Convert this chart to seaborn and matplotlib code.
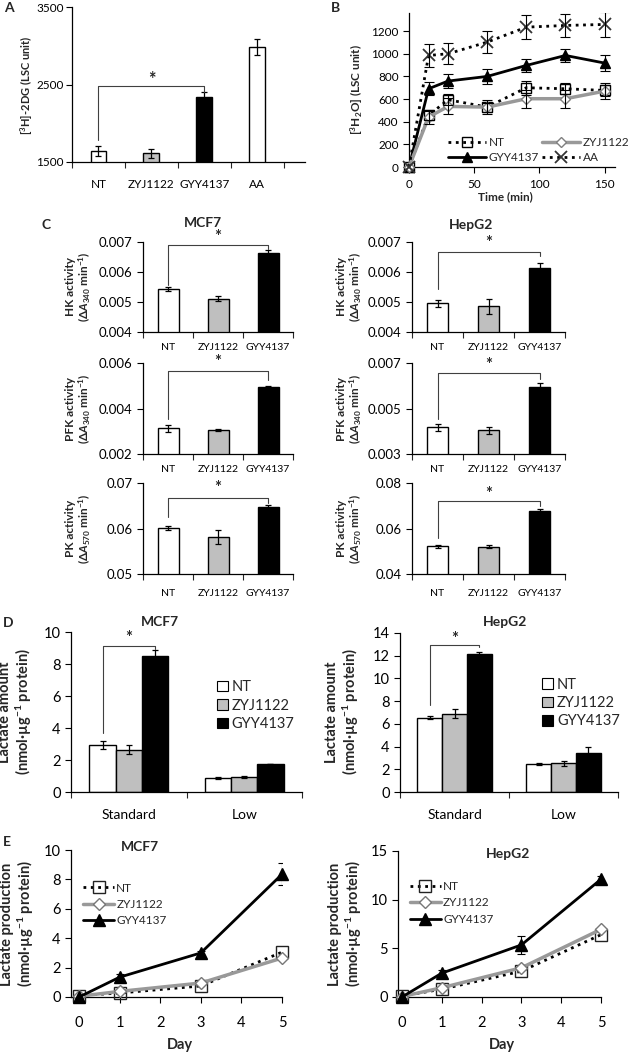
import numpy as np
import pandas as pd
import matplotlib
matplotlib.use('Agg')
import matplotlib.pyplot as plt
import seaborn as sns

# ---------------- data ----------------
groups3 = ['NT', 'ZYJ1122', 'GYY4137']
groups4 = ['NT', 'ZYJ1122', 'GYY4137', 'AA']
fill = {'NT': 'white', 'ZYJ1122': '#bfbfbf', 'GYY4137': 'black', 'AA': 'white'}

# A: [3H]-2DG uptake
a_vals = [1646, 1611, 2334, 2987]
a_err = [64, 57, 70, 100]

# B: [3H2O] time course
b_time = [0, 15, 30, 60, 90, 120, 150]
b_nt = [0, 456, 594, 529, 700, 691, 676]
b_nt_err = [0, 40, 50, 40, 60, 50, 50]
b_zyj = [0, 441, 535, 529, 603, 603, 670]
b_zyj_err = [0, 60, 70, 60, 80, 80, 70]
b_gyy = [0, 691, 759, 800, 897, 985, 918]
b_gyy_err = [0, 59, 59, 68, 59, 59, 67]
b_aa = [0, 985, 1000, 1103, 1235, 1250, 1259]
b_aa_err = [0, 103, 94, 97, 103, 103, 109]

# C: enzyme activities
mcf7_hk = [0.00542, 0.00511, 0.00664]
mcf7_hk_err = [0.00007, 0.00008, 0.00008]
mcf7_pfk = [0.00313, 0.00304, 0.00493]
mcf7_pfk_err = [0.00016, 0.00004, 0.00007]
mcf7_pk = [0.0601, 0.0582, 0.06465]
mcf7_pk_err = [0.0004, 0.0015, 0.0005]
hep_hk = [0.00495, 0.00485, 0.00612]
hep_hk_err = [0.00013, 0.00026, 0.00018]
hep_pfk = [0.00418, 0.00404, 0.00596]
hep_pfk_err = [0.00015, 0.00014, 0.00015]
hep_pk = [0.0522, 0.0520, 0.0677]
hep_pk_err = [0.0007, 0.0007, 0.0007]

# D: lactate amount (rows: NT, ZYJ1122, GYY4137; cols: Standard, Low)
d_conditions = ['Standard', 'Low']
d_mcf7 = [[2.96, 0.875], [2.65, 0.94], [8.48, 1.75]]
d_mcf7_err = [[0.25, 0.08], [0.3, 0.07], [0.37, 0.03]]
d_hep = [[6.55, 2.46], [6.9, 2.54], [12.19, 3.42]]
d_hep_err = [[0.15, 0.05], [0.38, 0.23], [0.15, 0.5]]

# E: lactate production over days
e_days = [0, 1, 3, 5]
e_mcf7_nt = [0.1, 0.27, 0.75, 3.05]
e_mcf7_zyj = [0.05, 0.38, 0.95, 2.65]
e_mcf7_gyy = [0.0, 1.35, 3.0, 8.35]
e_mcf7_gyy_err = [0, 0.2, 0.15, 0.75]
e_hep_nt = [0.1, 0.8, 2.65, 6.4]
e_hep_zyj = [0.05, 0.95, 3.0, 6.95]
e_hep_gyy = [0.0, 2.45, 5.35, 12.1]
e_hep_gyy_err = [0, 0.3, 0.9, 0.3]

# significance brackets: (left foot, top, right foot, star height)
sig_a = (1788, 2475, 2400, 2560)
sig_c = {
    'mcf7_hk': (0.00557, 0.00689, 0.00678, 0.00718),
    'mcf7_pfk': (0.00356, 0.00563, 0.00526, 0.00605),
    'mcf7_pk': (0.0625, 0.0667, 0.0655, 0.0688),
    'hep_hk': (0.00542, 0.00667, 0.00652, 0.00697),
    'hep_pfk': (0.00456, 0.00656, 0.00629, 0.00690),
    'hep_pk': (0.0558, 0.0719, 0.0697, 0.0753),
}
sig_d_mcf7 = (3.7, 9.15, 8.95, 9.6)
sig_d_hep = (7.66, 12.9, 12.75, 13.5)

# ---------------- style ----------------
sns.set_style('ticks')
plt.rcParams['font.family'] = ['Lato', 'DejaVu Sans']
plt.rcParams['mathtext.fontset'] = 'custom'
plt.rcParams['mathtext.rm'] = 'Lato:bold'
plt.rcParams['mathtext.it'] = 'Lato:italic:bold'
plt.rcParams['mathtext.bf'] = 'Lato:bold'

W, H = 630, 1055
fig = plt.figure(figsize=(W / 100, H / 100), dpi=100)


def place(x0, x1, y0, y1):
    return fig.add_axes([x0 / W, 1 - y1 / H, (x1 - x0) / W, (y1 - y0) / H])


def ftext(x, y, s, size, **kw):
    kw.setdefault('ha', 'center')
    kw.setdefault('va', 'center')
    fig.text(x / W, 1 - y / H, s, fontsize=size, **kw)


def style_axes(ax, size):
    sns.despine(ax=ax)
    for s in ['left', 'bottom']:
        ax.spines[s].set_linewidth(0.9)
        ax.spines[s].set_color('black')
    ax.tick_params(axis='both', labelsize=size, length=4, width=0.8,
                   direction='out', colors='black')
    ax.set_xlabel('')
    ax.set_ylabel('')


def category_axis(ax, labels, lo, hi, size, pad=7):
    ax.set_xlim(lo, hi)
    ax.set_xticks(range(len(labels)), labels)
    ax.set_xticks(np.arange(len(labels) + 1) - 0.5, minor=True)
    ax.tick_params(axis='x', which='major', length=0, pad=pad, labelsize=size)
    ax.tick_params(axis='x', which='minor', length=4, width=0.8)


def bracket(ax, x0, x1, sig, size):
    y0, top, y1, star = sig
    ax.plot([x0, x0, x1, x1], [y0, top, top, y1], color='#404040', lw=0.8,
            clip_on=False, zorder=5)
    ax.text((x0 + x1) / 2, star, '*', ha='center', va='center', fontsize=size,
            fontweight='bold')


def simple_bars(ax, cats, vals, errs, width):
    df = pd.DataFrame({'group': cats, 'value': vals})
    sns.barplot(data=df, x='group', y='value', hue='group', order=cats,
                palette=[fill[c] for c in cats], edgecolor='black', linewidth=1,
                width=width, errorbar=None, legend=False, ax=ax)
    ax.errorbar(np.arange(len(cats)), vals, yerr=errs, fmt='none', ecolor='black',
                elinewidth=0.9, capsize=2.5, capthick=0.9, zorder=4)


# ---------------- A ----------------
ax = place(72, 305, 7, 162)
simple_bars(ax, groups4, a_vals, a_err, 0.3)
style_axes(ax, 8.5)
ax.set_ylim(1500, 3500)
ax.set_yticks([1500, 2500, 3500])
ax.tick_params(axis='y', pad=2)
category_axis(ax, groups4, -0.45, 3.9, 8.5, pad=12)
bracket(ax, 0, 2, sig_a, 13)
ftext(27, 85, r'[$^{3}$H]-2DG (LSC unit)', 8, rotation=90, fontweight='bold')

# ---------------- B ----------------
ax = place(409, 615, 13, 167)
b_series = [
    ('NT', b_nt, b_nt_err, dict(color='black', linestyle=':', linewidth=2, marker='s',
                                markersize=7, markerfacecolor='none',
                                markeredgecolor='black', markeredgewidth=1)),
    ('GYY4137', b_gyy, b_gyy_err, dict(color='black', linestyle='-', linewidth=2,
                                       marker='^', markersize=7, markerfacecolor='black',
                                       markeredgecolor='black', markeredgewidth=1)),
    ('ZYJ1122', b_zyj, b_zyj_err, dict(color='#999999', linestyle='-', linewidth=2.5,
                                       marker='D', markersize=5.5, markerfacecolor='white',
                                       markeredgecolor='#808080', markeredgewidth=1)),
    ('AA', b_aa, b_aa_err, dict(color='black', linestyle=':', linewidth=2, marker='x',
                                markersize=8, markeredgecolor='#333333',
                                markeredgewidth=1.3)),
]
for name, y, err, st in b_series:
    sns.lineplot(x=b_time, y=y, ax=ax, label=name, errorbar=None, clip_on=False,
                 zorder=3, **st)
    idx = [i for i, e in enumerate(err) if e > 0]
    ax.errorbar([b_time[i] for i in idx], [y[i] for i in idx],
                yerr=[err[i] for i in idx], fmt='none', ecolor='black',
                elinewidth=0.8, capsize=3.5, capthick=0.8, zorder=4)
style_axes(ax, 8.5)
ax.set_xlim(0, 158)
ax.set_ylim(0, 1360)
ax.set_xticks([0, 50, 100, 150])
ax.set_yticks(range(0, 1201, 200))
ax.tick_params(axis='x', pad=5)
ax.legend(ncol=2, loc='center', bbox_to_anchor=(0.63, 0.11), frameon=False,
          fontsize=8.5, handlelength=3.2, columnspacing=0.3, handletextpad=0.2,
          labelspacing=0.3, borderpad=0)
ftext(357, 90, r'[$^{3}$H$_{2}$O] (LSC unit)', 8.5, rotation=90, fontweight='bold')
ftext(505, 197, 'Time (min)', 8.5, fontweight='bold')

# ---------------- C ----------------
c_rows = [(242, 332), (363, 454), (483, 574)]
c_panels = [
    ('mcf7_hk', 143, 293, 0, mcf7_hk, mcf7_hk_err, (0.004, 0.007), [0.004, 0.005, 0.006, 0.007], 3),
    ('mcf7_pfk', 143, 293, 1, mcf7_pfk, mcf7_pfk_err, (0.002, 0.006), [0.002, 0.004, 0.006], 3),
    ('mcf7_pk', 143, 293, 2, mcf7_pk, mcf7_pk_err, (0.05, 0.07), [0.05, 0.06, 0.07], 2),
    ('hep_hk', 412, 565, 0, hep_hk, hep_hk_err, (0.004, 0.007), [0.004, 0.005, 0.006, 0.007], 3),
    ('hep_pfk', 412, 565, 1, hep_pfk, hep_pfk_err, (0.003, 0.007), [0.003, 0.005, 0.007], 3),
    ('hep_pk', 412, 565, 2, hep_pk, hep_pk_err, (0.04, 0.08), [0.04, 0.06, 0.08], 2),
]
c_ylabels = [r'HK activity' + '\n' + r'(Δ$\mathit{A}_{340}$ min$^{-1}$)',
             r'PFK activity' + '\n' + r'(Δ$\mathit{A}_{340}$ min$^{-1}$)',
             r'PK activity' + '\n' + r'(Δ$\mathit{A}_{570}$ min$^{-1}$)']
for key, x0, x1, r, vals, errs, lim, ticks, dec in c_panels:
    y0, y1 = c_rows[r]
    ax = place(x0, x1, y0, y1)
    simple_bars(ax, groups3, vals, errs, 0.42)
    style_axes(ax, 9.5)
    ax.set_ylim(*lim)
    ax.set_yticks(ticks, [f'{t:.{dec}f}' for t in ticks])
    category_axis(ax, groups3, -0.5, 2.5, 7.5, pad=8 if r < 2 else 11)
    bracket(ax, 0, 2, sig_c[key], 12)
    lx = 79 if x0 < 300 else 350
    ftext(lx, (y0 + y1) / 2, c_ylabels[r], 8.5, rotation=90, fontweight='bold',
          linespacing=1.15)

ftext(203, 223, 'MCF7', 10, fontweight='bold')
ftext(471, 225, 'HepG2', 10, fontweight='bold')


# ---------------- D ----------------
def grouped_bars(ax, vals, errs):
    rows = []
    for g, v in zip(groups3, vals):
        for c, val in zip(d_conditions, v):
            rows.append({'condition': c, 'group': g, 'value': val})
    df = pd.DataFrame(rows)
    sns.barplot(data=df, x='condition', y='value', hue='group', hue_order=groups3,
                order=d_conditions, palette=[fill[g] for g in groups3],
                edgecolor='black', linewidth=1, width=0.68, gap=0, errorbar=None, ax=ax)
    flat_err = [e for row in errs for e in row]
    bars = [p for p in ax.patches if p.get_width() > 0][:len(flat_err)]
    for p, e in zip(bars, flat_err):
        ax.errorbar(p.get_x() + p.get_width() / 2, p.get_height(), yerr=e, fmt='none',
                    ecolor='black', elinewidth=0.9, capsize=2.5, capthick=0.9, zorder=4)


d_panels = [(71, 302, 632, 792, d_mcf7, d_mcf7_err, 10, range(0, 11, 2), sig_d_mcf7, (0.60, 0.54)),
            (400, 618, 633, 792, d_hep, d_hep_err, 14, range(0, 15, 2), sig_d_hep, (0.62, 0.56))]
for x0, x1, y0, y1, vals, errs, top, ticks, sig, lpos in d_panels:
    ax = place(x0, x1, y0, y1)
    grouped_bars(ax, vals, errs)
    style_axes(ax, 10.5)
    ax.set_ylim(0, top)
    ax.set_yticks(list(ticks))
    category_axis(ax, d_conditions, -0.5, 1.5, 10, pad=12)
    bracket(ax, -0.227, 0.227, sig, 12)
    sns.move_legend(ax, 'center left', bbox_to_anchor=lpos, frameon=False, title=None,
                    fontsize=10.5, handlelength=0.75, handleheight=0.75,
                    handletextpad=0.25, labelspacing=0.3, borderpad=0)
    for h in ax.get_legend().legend_handles:
        h.set_edgecolor('black')
        h.set_linewidth(0.8)

ftext(16, 712, 'Lactate amount\n(nmol·µg$^{-1}$ protein)', 10.5, rotation=90,
      fontweight='bold', linespacing=1.1)
ftext(343, 712, 'Lactate amount\n(nmol·µg$^{-1}$ protein)', 10.5, rotation=90,
      fontweight='bold', linespacing=1.1)
ftext(160, 622, 'MCF7', 10, fontweight='bold')
ftext(505, 622, 'HepG2', 10, fontweight='bold')

# ---------------- E ----------------
e_styles = {
    'NT': dict(color='black', linestyle=':', linewidth=2, marker='s', markersize=9,
               markerfacecolor='none', markeredgecolor='#222222', markeredgewidth=1),
    'ZYJ1122': dict(color='#999999', linestyle='-', linewidth=2.5, marker='D',
                    markersize=6.5, markerfacecolor='white', markeredgecolor='#777777',
                    markeredgewidth=1),
    'GYY4137': dict(color='black', linestyle='-', linewidth=2, marker='^', markersize=9,
                    markerfacecolor='black', markeredgecolor='black', markeredgewidth=1),
}
e_panels = [(71, 282, 850, 997, -0.2, [e_mcf7_nt, e_mcf7_zyj, e_mcf7_gyy], e_mcf7_gyy_err,
             10, range(0, 11, 2), (0.03, 0.63)),
            (398, 601, 851, 997, -0.1, [e_hep_nt, e_hep_zyj, e_hep_gyy], e_hep_gyy_err,
             15, range(0, 16, 5), (0.03, 0.645))]
for x0, x1, y0, y1, xlo, series, gerr, top, ticks, lpos in e_panels:
    ax = place(x0, x1, y0, y1)
    for name, y in zip(groups3, series):
        sns.lineplot(x=e_days, y=y, ax=ax, label=name, errorbar=None, clip_on=False,
                     zorder=3, **e_styles[name])
    idx = [i for i, e in enumerate(gerr) if e > 0]
    ax.errorbar([e_days[i] for i in idx], [series[2][i] for i in idx],
                yerr=[gerr[i] for i in idx], fmt='none', ecolor='black',
                elinewidth=0.8, capsize=3, capthick=0.8, zorder=4)
    style_axes(ax, 10.5)
    ax.set_xlim(xlo, 5.0)
    ax.set_ylim(0, top)
    ax.set_xticks(range(6))
    ax.set_yticks(list(ticks))
    ax.tick_params(axis='x', pad=10)
    ax.legend(loc='center left', bbox_to_anchor=lpos, frameon=False, fontsize=8.5,
              handlelength=2.6, handletextpad=0.2, labelspacing=0.45, borderpad=0)

ftext(18, 924, 'Lactate production\n(nmol·µg$^{-1}$ protein)', 10.5, rotation=90,
      fontweight='bold', linespacing=1.1)
ftext(346, 924, 'Lactate production\n(nmol·µg$^{-1}$ protein)', 10.5, rotation=90,
      fontweight='bold', linespacing=1.1)
ftext(180, 1045, 'Day', 10.5, fontweight='bold')
ftext(502, 1045, 'Day', 10.5, fontweight='bold')
ftext(140, 847, 'MCF7', 10, fontweight='bold')
ftext(508, 854, 'HepG2', 10, fontweight='bold')

# panel letters
for letter, x, y in [('A', 9, 8), ('B', 336, 8), ('C', 46, 225), ('D', 8, 623), ('E', 7, 842)]:
    ftext(x, y, letter, 10, fontweight='bold')

fig.savefig('out.png', dpi=100)
